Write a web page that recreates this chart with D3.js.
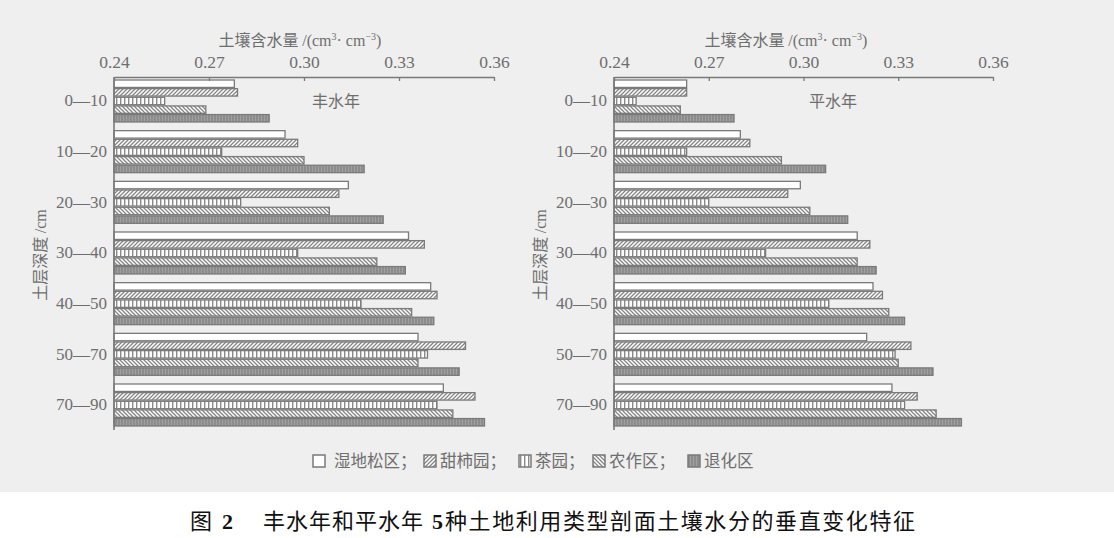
<!DOCTYPE html>
<html>
<head>
<meta charset="utf-8">
<script src="https://cdn.jsdelivr.net/npm/d3@7"></script>
<style>
  html, body { margin: 0; padding: 0; background: #fff; }
  svg { display: block; }
</style>
</head>
<body>
<svg id="chart" width="1114" height="538"></svg>
<script>
// ---------------- data ----------------
const depths = ["0—10", "10—20", "20—30", "30—40", "40—50", "50—70", "70—90"];
const seriesNames = ["湿地松区", "甜柿园", "茶园", "农作区", "退化区"];
const xTicks = [0.24, 0.27, 0.30, 0.33, 0.36];

// 丰水年 (wet year)
const wetPine     = [0.278, 0.294, 0.314, 0.333, 0.340, 0.336, 0.344];
const wetPersimmon= [0.279, 0.298, 0.311, 0.338, 0.342, 0.351, 0.354];
const wetTea      = [0.256, 0.274, 0.280, 0.298, 0.318, 0.339, 0.342];
const wetCrop     = [0.269, 0.300, 0.308, 0.323, 0.334, 0.336, 0.347];
const wetDegraded = [0.289, 0.319, 0.325, 0.332, 0.341, 0.349, 0.357];

// 平水年 (normal year)
const normPine     = [0.263, 0.280, 0.299, 0.317, 0.322, 0.320, 0.328];
const normPersimmon= [0.263, 0.283, 0.295, 0.321, 0.325, 0.334, 0.336];
const normTea      = [0.247, 0.263, 0.270, 0.288, 0.308, 0.329, 0.332];
const normCrop     = [0.261, 0.293, 0.302, 0.317, 0.327, 0.330, 0.342];
const normDegraded = [0.278, 0.307, 0.314, 0.323, 0.332, 0.341, 0.350];

const panelTitles = ["丰水年", "平水年"];
const caption = ["图", "2", "丰水年和平水年", "5", "种土地利用类型剖面土壤水分的垂直变化特征"];

// ---------------- setup ----------------
const svg = d3.select("#chart");
const textColor = "#6e6e6e";
const strokeColor = "#7a7a7a";
const cjk = "'Noto Sans CJK SC', 'Noto Sans', sans-serif";
const serif = "'Liberation Serif', 'DejaVu Serif', serif";

svg.append("rect").attr("x", 0).attr("y", 0).attr("width", 1114).attr("height", 492).attr("fill", "#efefef");
svg.append("rect").attr("x", 0).attr("y", 492).attr("width", 1114).attr("height", 46).attr("fill", "#ffffff");

// patterns
const defs = svg.append("defs");
function pat(id, w, h, bg, draw) {
  const p = defs.append("pattern").attr("id", id).attr("patternUnits", "userSpaceOnUse")
    .attr("width", w).attr("height", h);
  p.append("rect").attr("width", w).attr("height", h).attr("fill", bg);
  draw(p);
}
pat("pFwd", 4, 4, "#ffffff", p => {
  p.append("path").attr("d", "M-1,1 L1,-1 M0,4 L4,0 M3,5 L5,3").attr("stroke", "#858585").attr("stroke-width", 1.3);
});
pat("pBack", 4, 4, "#ffffff", p => {
  p.append("path").attr("d", "M-1,3 L1,5 M0,0 L4,4 M3,-1 L5,1").attr("stroke", "#858585").attr("stroke-width", 1.3);
});
pat("pVert", 4, 4, "#ffffff", p => {
  p.append("rect").attr("x", 0).attr("y", 0).attr("width", 1.4).attr("height", 4).attr("fill", "#8a8a8a");
});
pat("pDark", 3, 4, "#8c8c8c", p => {
  p.append("rect").attr("x", 0).attr("y", 0).attr("width", 0.9).attr("height", 4).attr("fill", "#a4a4a4");
});
const fills = ["#ffffff", "url(#pFwd)", "url(#pVert)", "url(#pBack)", "url(#pDark)"];

const panels = [
  { title: panelTitles[0], x0: 114, x1: 494, values: [wetPine, wetPersimmon, wetTea, wetCrop, wetDegraded], titleX: 336, xTitleX: 300, yTitleX: 46 },
  { title: panelTitles[1], x0: 614, x1: 993, values: [normPine, normPersimmon, normTea, normCrop, normDegraded], titleX: 833, xTitleX: 786, yTitleX: 546 }
];

const axisY = 77;
const y = d3.scaleBand().domain(depths).range([80, 426]).paddingInner(0.171).paddingOuter(0);
const yInner = d3.scaleBand().domain(seriesNames).range([0, y.bandwidth()]).paddingInner(0.14);

panels.forEach(pn => {
  const x = d3.scaleLinear().domain([0.24, 0.36]).range([pn.x0, pn.x1]);
  const g = svg.append("g");

  // bars
  depths.forEach((dep, di) => {
    seriesNames.forEach((s, si) => {
      const v = pn.values[si][di];
      g.append("rect")
        .attr("x", x(0.24))
        .attr("y", y(dep) + yInner(s))
        .attr("width", x(v) - x(0.24))
        .attr("height", yInner.bandwidth())
        .attr("fill", fills[si])
        .attr("stroke", strokeColor)
        .attr("stroke-width", 1.3);
    });
  });

  // top axis
  const ax = g.append("g").attr("transform", `translate(0,${axisY})`)
    .call(d3.axisTop(x).tickValues(xTicks).tickFormat(d3.format(".2f")).tickSizeInner(-4).tickSizeOuter(0).tickPadding(9));
  ax.select(".domain").attr("stroke", strokeColor).attr("stroke-width", 1.6);
  ax.selectAll(".tick line").attr("stroke", strokeColor).attr("stroke-width", 1.3);
  ax.selectAll(".tick text").attr("fill", textColor).style("font-family", serif).style("font-size", "17.5px");

  // left axis
  const ay = g.append("g").attr("transform", `translate(${x(0.24)},0)`)
    .call(d3.axisLeft(y).tickSize(0).tickPadding(7));
  ay.select(".domain").remove();
  ay.selectAll(".tick text").attr("fill", textColor).style("font-family", serif).style("font-size", "17px");
  g.append("line").attr("x1", x(0.24)).attr("x2", x(0.24)).attr("y1", axisY).attr("y2", 430)
    .attr("stroke", strokeColor).attr("stroke-width", 1.6);

  // x title
  const t = g.append("text").attr("x", pn.xTitleX).attr("y", 46)
    .attr("text-anchor", "middle").attr("fill", textColor);
  t.append("tspan").style("font-family", cjk).style("font-size", "16px").text("土壤含水量 ");
  t.append("tspan").style("font-family", serif).style("font-size", "16px").text("/(cm");
  t.append("tspan").style("font-family", serif).style("font-size", "10px").attr("dy", -6).text("3");
  t.append("tspan").style("font-family", serif).style("font-size", "16px").attr("dy", 6).text("· cm");
  t.append("tspan").style("font-family", serif).style("font-size", "10px").attr("dy", -6).text("−3");
  t.append("tspan").style("font-family", serif).style("font-size", "16px").attr("dy", 6).text(")");

  // panel title
  g.append("text").attr("x", pn.titleX).attr("y", 107).attr("text-anchor", "middle")
    .attr("fill", textColor).style("font-family", cjk).style("font-size", "16px").text(pn.title);

  // y title
  const yt = g.append("text").attr("transform", `translate(${pn.yTitleX},255) rotate(-90)`)
    .attr("text-anchor", "middle").attr("fill", textColor);
  yt.append("tspan").style("font-family", cjk).style("font-size", "16px").text("土层深度 ");
  yt.append("tspan").style("font-family", serif).style("font-size", "16px").text("/cm");
});

// legend
const legend = svg.append("g");
const legendBoxX = [313, 424, 519, 593, 688];
const ly = 461;
seriesNames.forEach((s, i) => {
  const lx = legendBoxX[i];
  legend.append("rect").attr("x", lx).attr("y", ly - 6).attr("width", 12).attr("height", 12)
    .attr("fill", fills[i]).attr("stroke", strokeColor).attr("stroke-width", 1.5);
  legend.append("text").attr("x", lx + (i === 0 ? 21 : 16)).attr("y", ly + 6)
    .attr("fill", textColor).style("font-family", cjk).style("font-size", "16.5px")
    .text(s + (i < seriesNames.length - 1 ? "；" : ""));
});

// caption
const cap = svg.append("g").attr("fill", "#111");
const capY = 529;
cap.append("text").attr("x", 190).attr("y", capY).style("font-family", cjk).style("font-size", "22px").text(caption[0]);
cap.append("text").attr("x", 222).attr("y", capY).style("font-family", serif).style("font-weight", "bold").style("font-size", "22px").text(caption[1]);
cap.append("text").attr("x", 263).attr("y", capY).style("font-family", cjk).style("font-size", "22px")
  .attr("textLength", 160).attr("lengthAdjust", "spacing").text(caption[2]);
cap.append("text").attr("x", 432).attr("y", capY).style("font-family", serif).style("font-weight", "bold").style("font-size", "22px").text(caption[3]);
cap.append("text").attr("x", 445).attr("y", capY).style("font-family", cjk).style("font-size", "22px")
  .attr("textLength", 470).attr("lengthAdjust", "spacing").text(caption[4]);
</script>
</body>
</html>
